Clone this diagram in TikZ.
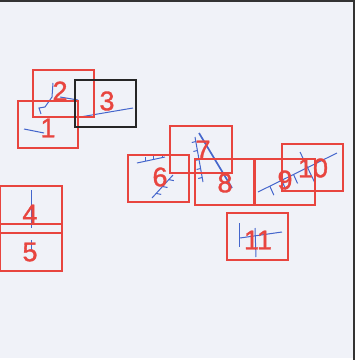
\documentclass[tikz,border=0pt]{standalone}
\usepackage{fontspec}
\setmainfont{Liberation Sans}
\newfontfamily\numfont[FakeBold=1.2]{Liberation Sans}
\usepackage{tikz}
\usetikzlibrary{calc}
\definecolor{mapbg}{HTML}{F0F2F8}
\definecolor{boxcol}{HTML}{E8453F}
\definecolor{linecol}{HTML}{4466CC}

\begin{document}
\begin{tikzpicture}[x=1pt, y=-1pt,
  tile/.style={draw=boxcol, line width=1.2pt},
  num/.style={text=boxcol, font=\numfont\fontsize{27}{27}\selectfont, inner sep=0pt},
  trace/.style={draw=linecol, line width=1pt}]
\useasboundingbox (0,0) rectangle (360,360);
\fill[white] (0,0) rectangle (360,360);
\fill[mapbg] (0,0) rectangle (354,358);
\draw[black!80, line width=2pt] (0,1) -- (354.5,1) -- (354.5,360);

% blue traces
\draw[trace] (24,129) -- (44,133);
\draw[trace] (53,83) -- (52,97) -- (45,107) -- (39,108) -- (41,114);
\draw[trace] (60,97) -- (78,100);
\draw[trace] (80,117) -- (133,108);
\draw[trace] (32,190) -- (32,228);
\draw[trace] (32,240) -- (32,250);
\draw[trace] (137,163) -- (165,157);
\foreach \t in {0.3,0.6,0.9} \draw[trace] ($(137,163)!\t!(165,157)$) -- ++(0,-4);
\draw[trace] (152,198) -- (173,175);
\foreach \t in {0.2,0.5,0.8} \draw[trace] ($(152,198)!\t!(173,175)$) -- ++(5,1);
\draw[trace, line width=1.7pt] (199,133) -- (232,188);
\draw[trace] (195,137) -- (203,182);
\foreach \t in {0.1,0.3,0.5,0.7,0.9} \draw[trace] ($(195,137)!\t!(203,182)$) -- ++(-4,1);
\draw[trace] (258,192) -- (337,153);
\foreach \t in {0.15,0.3,0.45} \draw[trace] ($(258,192)!\t!(337,153)$) -- ++(4,9);
\draw[trace] (300,152) -- (315,183);
\draw[trace] (240,223) -- (240,247);
\draw[trace] (255,228) -- (256,257);
\draw[trace] (240,238) -- (282,232);

% boxes
\draw[tile] (33,70) rectangle (94,117);
\draw[tile] (18,101) rectangle (78,148);
\draw[black!85, line width=2.4pt] (75,80) rectangle (136,127);
\draw[tile] (0,186) rectangle (62,233);
\draw[tile] (0,224) rectangle (62,271);
\draw[tile] (170,126) rectangle (232,173);
\draw[tile] (128,155) rectangle (189,202);
\draw[tile] (195,159) rectangle (254,205);
\draw[tile] (255,159) rectangle (315,205);
\draw[tile, line width=1.8pt] (255,159) -- (255,205);
\draw[tile] (282,144) rectangle (343,191);
\draw[tile] (227,213) rectangle (288,260);

% labels
\node[num] (n1) at (48,128) {1};
\node[num] (n2) at (60,91) {2};
\node[num] (n3) at (107,101) {3};
\node[num] (n4) at (30,214) {4};
\node[num] (n5) at (30,252) {5};
\node[num] (n6) at (160,177) {6};
\node[num] (n7) at (203,150) {7};
\node[num] (n8) at (225,183) {8};
\node[num] (n9) at (285,180) {9};
\node[num] (n10) at (313,168) {10};
\node[num] (n11) at (258,240) {11};
\end{tikzpicture}
\end{document}
